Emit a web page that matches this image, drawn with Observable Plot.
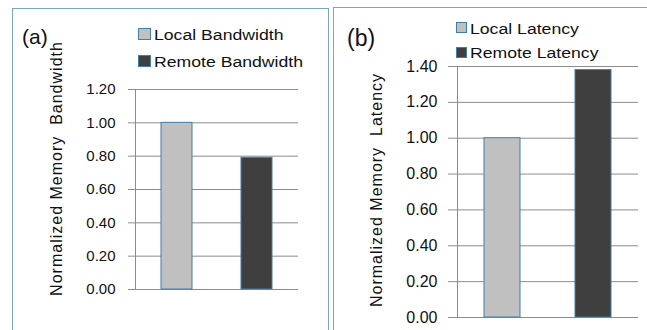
<!DOCTYPE html>
<html>
<head>
<meta charset="utf-8">
<script src="https://cdn.jsdelivr.net/npm/d3@7"></script>
<script src="https://cdn.jsdelivr.net/npm/@observablehq/plot@0.6"></script>
<style>
  html, body { margin: 0; padding: 0; background: #fff; }
  #root { position: relative; width: 647px; height: 330px; overflow: hidden; background: #fff;
          font-family: "Liberation Sans", Arial, sans-serif; color: #111; }
  .panel { position: absolute; border: 1.5px solid #79a6c0; box-sizing: border-box; }
  .plot { position: absolute; top: 0; }
  .plot svg { overflow: visible; }
  .tag { position: absolute; line-height: 1; white-space: nowrap; transform-origin: left top; }
  .leg { position: absolute; font-size: 14px; line-height: 14px; white-space: nowrap;
         transform-origin: left top; transform: scaleX(1.26); }
  .sw { position: absolute; box-sizing: border-box; border: 1px solid #3f7fae; }
</style>
</head>
<body>
<div id="root">
  <div class="panel" style="left:12px; top:8px; width:317px; height:340px;"></div>
  <div class="panel" style="left:333px; top:7px; width:330px; height:340px;"></div>
</div>
<script>
// ---- data ----
const bwCategories = ["Local Bandwidth", "Remote Bandwidth"];
const bwValues = [1.00, 0.79];
const bwTicks = [0, 0.2, 0.4, 0.6, 0.8, 1.0, 1.2];
const latCategories = ["Local Latency", "Remote Latency"];
const latValues = [1.00, 1.38];
const latTicks = [0, 0.2, 0.4, 0.6, 0.8, 1.0, 1.2, 1.4];
const panelTags = ["(a)", "(b)"];
const yLabels = ["Normalized Memory  Bandwidth", "Normalized Memory  Latency"];

// ---- styles ----
const barColors = ["#c0c0c0", "#3f3f3f"];
const barStroke = "#3f7fae";
const gridColor = "#8c8c8c";

const root = document.getElementById("root");

function panel(cats, vals, ticks, label, cfg) {
  const data = cats.map((c, i) => ({cat: c, value: vals[i]}));
  const chart = Plot.plot({
    width: cfg.width,
    height: 330,
    marginTop: cfg.mt, marginBottom: cfg.mb, marginLeft: cfg.ml, marginRight: cfg.mr,
    style: {fontFamily: '"Liberation Sans", Arial, sans-serif', fontSize: cfg.fs + "px", color: "#111", background: "transparent"},
    x: {domain: cats, paddingInner: cfg.pi, paddingOuter: cfg.po, axis: null},
    y: {domain: [0, ticks[ticks.length - 1]]},
    color: {domain: cats, range: barColors},
    marks: [
      Plot.gridY(ticks, {stroke: gridColor, strokeOpacity: 1, strokeWidth: 1}),
      Plot.frame({anchor: "left", stroke: gridColor, strokeWidth: 1}),
      Plot.barY(data, {x: "cat", y: "value", fill: "cat", stroke: barStroke, strokeWidth: 1}),
      Plot.axisY(ticks, {
        tickSize: cfg.ts, tickPadding: cfg.tp, stroke: gridColor,
        tickFormat: d3.format(".2f"), label: null
      }),
      Plot.text([label], {
        text: d => d, frameAnchor: "left", rotate: -90, lineAnchor: "top", textAnchor: "middle",
        dx: -cfg.lo, dy: cfg.ldy, fontSize: 16, fill: "#111"
      })
    ]
  });
  chart.querySelectorAll("text").forEach(t => {
    if (t.textContent === label) t.style.letterSpacing = "1px";
  });
  const wrap = document.createElement("div");
  wrap.className = "plot";
  wrap.style.left = cfg.left + "px";
  wrap.appendChild(chart);
  root.appendChild(wrap);
}

panel(bwCategories, bwValues, bwTicks, yLabels[0],
  {left: 0, width: 330, mt: 89, mb: 41, ml: 135, mr: 32, pi: 0.61, po: 0.32, ts: 7, tp: 13, fs: 15, lo: 85, ldy: -21});
panel(latCategories, latValues, latTicks, yLabels[1],
  {left: 330, width: 317, mt: 66, mb: 13, ml: 127, mr: 9, pi: 0.6, po: 0.29, ts: 9, tp: 11, fs: 16, lo: 87, ldy: -2});

// panel tags
function tag(text, x, y, size) {
  const d = document.createElement("div");
  d.className = "tag";
  d.textContent = text;
  d.style.left = x + "px"; d.style.top = y + "px"; d.style.fontSize = size + "px";
  root.appendChild(d);
}
tag(panelTags[0], 22, 25.5, 21);
tag(panelTags[1], 347, 27, 23);

// legends
function legend(cats, x, tops, sq, sqTops) {
  cats.forEach((c, i) => {
    const s = document.createElement("div");
    s.className = "sw";
    s.style.left = x + "px"; s.style.top = sqTops[i] + "px";
    s.style.width = sq[0] + "px"; s.style.height = sq[1] + "px";
    s.style.background = barColors[i];
    root.appendChild(s);
    const t = document.createElement("div");
    t.className = "leg";
    t.textContent = c;
    t.style.left = (x + sq[0] + 3) + "px"; t.style.top = tops[i] + "px";
    root.appendChild(t);
  });
}
legend(bwCategories, 138, [28, 55], [13, 12], [28, 55]);
legend(latCategories, 456, [22, 46], [11, 11], [22, 47]);
</script>
</body>
</html>
